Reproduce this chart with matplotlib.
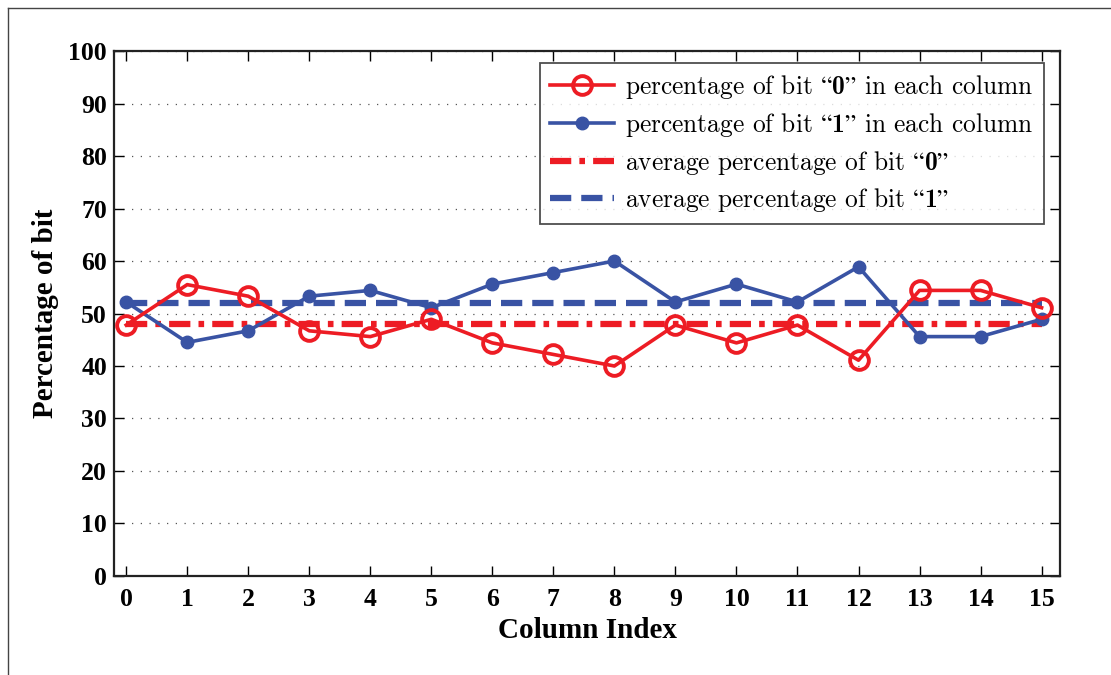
import numpy as np
import matplotlib.pyplot as plt
from matplotlib.lines import Line2D

plt.rcParams['font.family'] = ['Liberation Serif', 'DejaVu Serif']
plt.rcParams['mathtext.fontset'] = 'custom'
plt.rcParams['mathtext.rm'] = 'cmr10'
plt.rcParams['mathtext.bf'] = 'cmb10'
plt.rcParams['mathtext.it'] = 'Liberation Serif'

columns = np.arange(16)
pct_bit0 = [47.8, 55.5, 53.3, 46.7, 45.6, 48.9, 44.4, 42.2,
            40.0, 47.8, 44.4, 47.8, 41.1, 54.4, 54.4, 51.1]
pct_bit1 = [52.2, 44.5, 46.7, 53.3, 54.4, 51.1, 55.6, 57.8,
            60.0, 52.2, 55.6, 52.2, 58.9, 45.6, 45.6, 48.9]
avg_bit0 = 48.0
avg_bit1 = 52.0

red = '#ED1C24'
blue = '#3953A4'


def bit(b):
    # bold digit wrapped in curly quotes
    return '$\\mathit{“}\\mathbf{%s}\\mathit{”}$' % b


fig = plt.figure(figsize=(11.11, 6.75), dpi=100)
ax = fig.add_axes([0.1026, 0.1467, 0.954 - 0.1026, 0.9244 - 0.1467])

ax.plot(columns, pct_bit0, color=red, lw=2.6, marker='o', ms=13.5,
        mfc='none', mec=red, mew=2.8,
        label='percentage of bit ' + bit(0) + ' in each column', zorder=4)
ax.plot(columns, pct_bit1, color=blue, lw=2.6, marker='o', ms=9,
        mfc=blue, mec=blue,
        label='percentage of bit ' + bit(1) + ' in each column', zorder=3)
ax.plot([columns[0], columns[-1]], [avg_bit0, avg_bit0], color=red, lw=4.5,
        linestyle=(0, (3.4, 1.3, 0.9, 1.3)),
        label='average percentage of bit ' + bit(0), zorder=2)
ax.plot([columns[0], columns[-1]], [avg_bit1, avg_bit1], color=blue, lw=4.5,
        linestyle=(0, (3.4, 1.6)),
        label='average percentage of bit ' + bit(1), zorder=2)

ax.set_xlim(-0.2, 15.3)
ax.set_ylim(0, 100)
ax.set_xticks(columns)
ax.set_yticks(np.arange(0, 101, 10))
ax.tick_params(direction='in', length=7, width=1, top=True, right=True,
               labelsize=18.5)
ax.tick_params(axis='x', pad=9)
ax.tick_params(axis='y', pad=5)
for lab in ax.get_xticklabels() + ax.get_yticklabels():
    lab.set_fontweight('bold')
ax.yaxis.grid(True, linestyle=(0, (1, 6)), color='#555555', lw=0.9)
for sp in ax.spines.values():
    sp.set_linewidth(1.6)
    sp.set_color('#222222')

ax.set_xlabel('Column Index', fontsize=21, fontweight='bold', labelpad=4)
ax.set_ylabel('Percentage of bit', fontsize=21, fontweight='bold', labelpad=7)

leg = ax.legend(loc='upper right', bbox_to_anchor=(0.983, 0.977),
                borderaxespad=0, prop={'family': ['cmr10', 'DejaVu Serif'], 'size': 18.3},
                frameon=True, fancybox=False,
                edgecolor='#222222', handlelength=2.5, borderpad=0.4,
                labelspacing=0.38, handletextpad=0.45)
leg.get_frame().set_linewidth(1.3)

# outer frame lines
fig.add_artist(Line2D([0.0075, 0.0075], [0.0, 0.988], transform=fig.transFigure,
                      color='#444444', lw=1.0))
fig.add_artist(Line2D([0.0075, 1.0], [0.988, 0.988], transform=fig.transFigure,
                      color='#444444', lw=1.0))

fig.savefig('out.png', dpi=100)
